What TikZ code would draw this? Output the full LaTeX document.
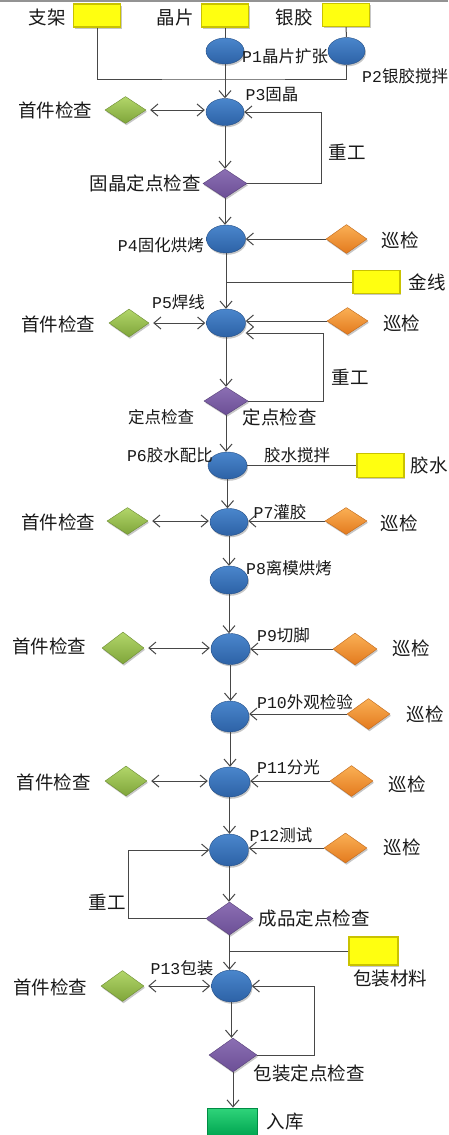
\documentclass[tikz,border=0pt]{standalone}
\usepackage{fontspec}
\setmainfont{Noto Sans CJK SC}
\newfontfamily\pf{Liberation Mono}
\usetikzlibrary{shapes.geometric,arrows.meta,shadows}
\definecolor{lnc}{HTML}{474747}
\definecolor{bluetop}{HTML}{4A86CC}
\definecolor{bluebot}{HTML}{2D62A6}
\definecolor{grtop}{HTML}{B2D66A}
\definecolor{grbot}{HTML}{7FA53A}
\definecolor{ortop}{HTML}{FAB055}
\definecolor{orbot}{HTML}{E37A1E}
\definecolor{putop}{HTML}{8B6FB3}
\definecolor{pubot}{HTML}{6C4F96}
\definecolor{yel}{HTML}{FFFF10}
\definecolor{yeld}{HTML}{C9C200}
\definecolor{gntop}{HTML}{2FD47A}
\definecolor{gnbot}{HTML}{00A550}
\newcommand\plab[2]{{\pf #1}#2}
\tikzset{
  x=1pt,y=-1pt,
  shd/.style={general shadow={shadow xshift=1pt,shadow yshift=-1.8pt,fill=black,opacity=0.22}},
  proc/.style={ellipse,inner sep=0pt,minimum width=39pt,minimum height=28pt,top color=bluetop,bottom color=bluebot,draw=bluebot!80!black,line width=0.4pt,shd},
  firstchk/.style={diamond,inner sep=0pt,minimum width=42pt,minimum height=29pt,top color=grtop,bottom color=grbot,draw=grbot!85!black,line width=0.4pt,shd},
  patrol/.style={diamond,inner sep=0pt,minimum width=43pt,minimum height=30pt,top color=ortop,bottom color=orbot,draw=orbot!85!black,line width=0.4pt,shd},
  spotchk/.style={diamond,inner sep=0pt,minimum width=45pt,minimum height=30pt,top color=putop,bottom color=pubot,draw=pubot!80!black,line width=0.4pt,shd},
  matbox/.style={rectangle,inner sep=0pt,minimum width=47pt,minimum height=23pt,fill=yel,draw=yeld,line width=1.3pt,shd},
  storebox/.style={rectangle,inner sep=0pt,minimum width=50pt,minimum height=28pt,top color=gntop,bottom color=gnbot,draw=gnbot!85!black,line width=0.8pt,shd},
  big/.style={inner sep=0pt,text=black!90,font=\fontsize{18.5}{20}\selectfont},
  small/.style={inner sep=0pt,text=black!90,font=\fontsize{16.5}{18}\selectfont},
  ln/.style={draw=lnc,line width=1pt},
  arr/.style={ln,-{Straight Barb[length=7pt,width=12pt,line width=1pt]}},
  darr/.style={ln,{Straight Barb[length=7pt,width=12pt,line width=1pt]}-{Straight Barb[length=7pt,width=12pt,line width=1pt]},shorten <=4pt,shorten >=1pt},
}
\begin{document}
\begin{tikzpicture}
\useasboundingbox (0,0) rectangle (448,1135);
\fill[white] (0,0) rectangle (448,1135);
\fill[gray!85] (0,0) rectangle (448,2.2);

% ---- top materials
\node[matbox] (rzj) at (97,15.5) {};
\node[big] (tzj) at (47,17) {支架};
\node[matbox] (rjp) at (225,15.5) {};
\node[big] (tjp) at (175,17) {晶片};
\node[matbox] (ryj) at (346,15) {};
\node[big] (tyj) at (294,17) {银胶};

\node[proc,minimum width=38pt,minimum height=26pt] (p1) at (225,51) {};
\node[small,anchor=west] (lp1) at (242,56) {\plab{P1}{晶片扩张}};
\node[proc,minimum width=37pt,minimum height=27pt] (p2) at (346.5,51) {};
\node[small,anchor=west] (lp2) at (362,76) {\plab{P2}{银胶搅拌}};
\coordinate (jn) at (225,79);
\draw[ln] (rzj.south) |- (jn) -| (p2.south);
\draw[ln] (ryj.south) -- (p2.north);
\draw[ln] (rjp.south) -- (p1.north);

% ---- P3
\node[proc,minimum width=38pt,minimum height=27pt] (p3) at (225,112) {};
\node[small] (lp3) at (272,95) {\plab{P3}{固晶}};
\node[firstchk,minimum width=41pt,minimum height=27pt] (g3) at (125.5,110) {};
\node[big] (tg3) at (55,110) {首件检查};
\draw[arr] (p1) -- (p1 |- p3.north);
\draw[darr] (g3) -- (g3 -| p3.west);

\node[spotchk,minimum width=44pt,minimum height=29pt] (d1) at (225,183.5) {};
\node[big,anchor=east] (td1) at (201,183) {固晶定点检查};
\draw[arr] (p3) -- (p3 |- d1.north);
\coordinate (c1) at (321,112);
\draw[arr] (d1.east) -| (c1) -- (p3.east);
\node[big] (rw1) at (347,152) {重工};

% ---- P4
\node[proc] (p4) at (226,239) {};
\node[small,anchor=east] (lp4) at (204,245) {\plab{P4}{固化烘烤}};
\node[patrol,minimum width=41pt,minimum height=29pt] (o4) at (346.5,239) {};
\node[big] (to4) at (400,240) {巡检};
\draw[arr] (d1) -- (d1 |- p4.north);
\draw[arr] (o4) -- (o4 -| p4.east);

\node[matbox] (rjx) at (376.5,282) {};
\node[big] (tjx) at (427,282) {金线};
\draw[ln] (rjx.west) -- (rjx.west -| p4);

% ---- P5
\node[proc] (p5) at (226,323) {};
\node[small] (lp5) at (178.5,302) {\plab{P5}{焊线}};
\node[firstchk,minimum width=40pt,minimum height=28pt] (g5) at (129,323) {};
\node[big] (tg5) at (58,324) {首件检查};
\node[patrol,minimum width=41pt,minimum height=27pt] (o5) at (347.5,321) {};
\node[big] (to5) at (401.5,323) {巡检};
\draw[arr] (p4) -- (p4 |- p5.north);
\draw[darr] (g5) -- (g5 -| p5.west);
\draw[arr] (o5) -- (o5 -| p5.east);

\node[spotchk,minimum width=44pt,minimum height=28pt] (d2) at (226,401) {};
\node[small] (td2a) at (161,417) {定点检查};
\node[big] (td2b) at (279.5,417) {定点检查};
\draw[arr] (p5) -- (p5 |- d2.north);
\coordinate (c2) at (323,333);
\draw[arr] (d2.east) -| (c2) -- (c2 -| p5.east);
\node[big] (rw2) at (350,377) {重工};

% ---- P6
\node[proc,minimum height=27pt] (p6) at (227.5,465.5) {};
\node[small] (lp6) at (170,455) {\plab{P6}{胶水配比}};
\node[small] (tjb) at (297,455) {胶水搅拌};
\node[matbox,minimum height=24pt] (rjs) at (380.5,465.5) {};
\node[big] (tjs) at (429,465) {胶水};
\draw[ln] (p6) -- (rjs);
\draw[arr] (d2) -- (d2 |- p6.north);

% ---- P7
\node[proc,minimum width=38pt,minimum height=27pt] (p7) at (229,522) {};
\node[small] (lp7) at (280,512) {\plab{P7}{灌胶}};
\node[firstchk,minimum width=41pt,minimum height=27pt] (g7) at (127.5,521) {};
\node[big] (tg7) at (58,522) {首件检查};
\node[patrol,minimum width=42pt,minimum height=27pt] (o7) at (346,521) {};
\node[big] (to7) at (399,523) {巡检};
\draw[arr] (p6) -- (p6 |- p7.north);
\draw[darr] (g7) -- (g7 -| p7.west);
\draw[arr] (o7) -- (o7 -| p7.east);

% ---- P8
\node[proc,minimum width=38pt] (p8) at (229,580) {};
\node[small] (lp8) at (289,568) {\plab{P8}{离模烘烤}};
\draw[arr] (p7) -- (p7 |- p8.north);

% ---- P9
\node[proc,minimum height=31pt] (p9) at (230.5,649) {};
\node[small] (lp9) at (283.5,635) {\plab{P9}{切脚}};
\node[firstchk,minimum width=42pt,minimum height=32pt] (g9) at (123,648) {};
\node[big] (tg9) at (49.5,646) {首件检查};
\node[patrol,minimum width=44pt,minimum height=32pt] (o9) at (355,649) {};
\node[big] (to9) at (411,648) {巡检};
\draw[arr] (p8) -- (p8 |- p9.north);
\draw[darr] (g9) -- (g9 -| p9.west);
\draw[arr] (o9) -- (o9 -| p9.east);

% ---- P10
\node[proc,minimum width=38pt,minimum height=31pt] (p10) at (230,716.5) {};
\node[small] (lp10) at (305,702) {\plab{P10}{外观检验}};
\node[patrol,minimum width=43pt,minimum height=31pt] (o10) at (368.5,714) {};
\node[big] (to10) at (425,714) {巡检};
\draw[arr] (p9) -- (p9 |- p10.north);
\draw[arr] (o10) -- (o10 -| p10.east);

% ---- P11
\node[proc,minimum width=41pt,minimum height=30pt] (p11) at (229.5,782) {};
\node[small] (lp11) at (288.5,767) {\plab{P11}{分光}};
\node[firstchk,minimum width=42pt,minimum height=30pt] (g11) at (126,781) {};
\node[big] (tg11) at (53.5,782) {首件检查};
\node[patrol,minimum width=43pt,minimum height=31pt] (o11) at (351.5,781) {};
\node[big] (to11) at (407,784) {巡检};
\draw[arr] (p10) -- (p10 |- p11.north);
\draw[darr] (g11) -- (g11 -| p11.west);
\draw[arr] (o11) -- (o11 -| p11.east);

% ---- P12
\node[proc,minimum height=32pt] (p12) at (229,850) {};
\node[small] (lp12) at (281,835) {\plab{P12}{测试}};
\node[patrol,minimum width=43pt,minimum height=30pt] (o12) at (345.5,848) {};
\node[big] (to12) at (402,847) {巡检};
\draw[arr] (p11) -- (p11 |- p12.north);
\draw[arr] (o12) -- (o12 -| p12.east);

\node[spotchk,minimum width=47pt,minimum height=33pt] (d3) at (229.5,918.5) {};
\node[big] (td3) at (314,918) {成品定点检查};
\draw[arr] (p12) -- (p12 |- d3.north);
\coordinate (c3) at (128,850);
\draw[arr] (d3.west) -| (c3) -- (p12.west);
\node[big] (rw3) at (107,902) {重工};

\node[matbox,minimum width=49pt,minimum height=28pt] (rbz) at (373.5,951) {};
\node[big] (tbz) at (390,978) {包装材料};
\draw[ln] (rbz.west) -- (rbz.west -| d3);

% ---- P13
\node[proc,minimum width=40pt,minimum height=32pt] (p13) at (231.5,986) {};
\node[small] (lp13) at (182,968) {\plab{P13}{包装}};
\node[firstchk,minimum width=43pt,minimum height=31pt] (g13) at (122.5,986) {};
\node[big] (tg13) at (50,987) {首件检查};
\draw[arr] (d3) -- (d3 |- p13.north);
\draw[darr] (g13) -- (g13 -| p13.west);

\node[spotchk,minimum width=48pt,minimum height=34pt] (d4) at (233,1055) {};
\node[big] (td4) at (309,1073) {包装定点检查};
\draw[arr] (p13) -- (p13 |- d4.north);
\coordinate (c4) at (314,986);
\draw[arr] (d4.east) -| (c4) -- (p13.east);

\node[storebox] (rk) at (232,1122) {};
\node[big] (trk) at (285,1122) {入库};
\draw[arr] (d4) -- (d4 |- rk.north);
\end{tikzpicture}
\end{document}
